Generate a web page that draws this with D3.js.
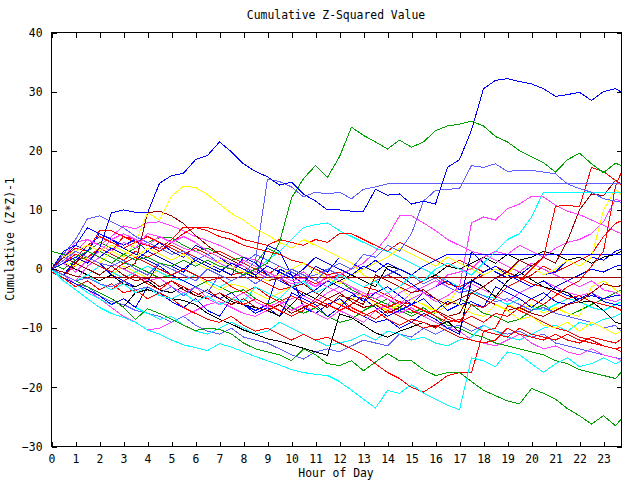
<!DOCTYPE html>
<html><head><meta charset="utf-8">
<script src="https://cdn.jsdelivr.net/npm/d3@7/dist/d3.min.js"></script>
<style>
body{margin:0;background:#fff}
text{font-family:"DejaVu Sans Mono","Liberation Mono",monospace;font-size:11.4px;fill:#000}
</style>
</head><body>
<svg id="chart" width="640" height="480"></svg>
<script>
const titleText = "Cumulative Z-Squared Value";
const xLabel = "Hour of Day";
const yLabel = "Cumulative (Z*Z)-1";
const xTicks = [0,1,2,3,4,5,6,7,8,9,10,11,12,13,14,15,16,17,18,19,20,21,22,23];
const yTicks = [-30,-20,-10,0,10,20,30,40];
const hours = [0,0.5,1,1.5,2,2.5,3,3.5, 4,4.5,5,5.5,6,6.5,7,7.5, 8,8.5,9,9.5,10,10.5,11,11.5,
  12,12.5,13,13.5,14,14.5,15,15.5, 16,16.5,17,17.5,18,18.5,19,19.5, 20,20.5,21,21.5,22,22.5,23,23.5, 23.75];

const s01 = [0,1,2,1,3.5,9.5,10,9.6, 9.5,14.5,15.8,16.2,18.5,19.2,21.5,19.8, 17.8,16.5,15.6,14.2,14.7,12.7,11.5,10, 10,9.8,9.8,13.5,12.5,12.7,11,11.5, 11,17.2,18.5,23.5,30.5,31.9,32.2,31.7, 31.3,30.5,29.2,29.5,29.9,28.5,30,30.5, 29.9];
const s02 = [0,-1,-2,-1.5,-2.5,-3,-2,-3.5, -3,-4,-3,-4.5,-3,-4,-1,-2, -1,1.5,15.2,14.8,13.9,12.2,13,12.7, 13,11.9,13.5,13.9,14.4,14.4,14.4,14.4, 14.4,14.4,14.4,14.4,14.4,14.4,14.4,14.4, 14.4,14.4,14.4,14.4,14.4,14.4,14.4,14.4, 14.4];
const s03 = [0,1.5,3,2,1,0.5,1.5,0, -1,1,0,-1,-2,0,-1,-2, -1,-2.5,-1,-2,0,-1,-2,0, 1,0,2.5,2,4,3,6,11.5, 13.3,13.5,13.6,17.5,17.2,17.8,16.5,16.7, 16.7,16.4,16.1,14.4,13.6,13,11.9,11.5, 11.3];
const s04 = [0,1,2,3,2,1,2.5,1.5, 2,1,0.5,1.5,0.5,1.5,0.5,0, -1,0,1,4.5,12,15.3,17.5,15.5, 19,24,22.6,21.5,20.3,21.8,20.6,21.5, 23.4,24.2,24.5,25,24.2,22.4,21.5,20, 19,18,16.4,18.5,19.6,17.8,16.3,17.9, 17.5];
const s05 = [0,1,0.5,2,1,3,2,4.5, 9.5,8.3,12.3,14,13.8,12.6,11,9.4, 8.3,6.8,5.8,4.5,3.5,5,4,3, 2,1,-1,-2,-4,-3,-5,-6, -7,-5,-6,-7.5,-8,-6,-7,-8.5, -8,-9.5,-10,-9,-10.5,-9,-10,-11, -10.5];
const s06 = [0,-1,1,3,2,1,0,1, 9.5,9.8,9,7.7,5.7,4,2.5,1.5, 0.5,-1,-2,-1.5,-3,-2.5,-4,-5, -4,-5.5,-6.5,-6,-7.5,-6.5,-5,-6, -7,-8,-7.5,-4,-5,-6,-7,-6.5, -7.5,-8,-7,-6,-5.5,-4,-2.5,-3, -2.8];
const s07 = [0,-1,-2,-1,-2.5,-3.5,-2.5,-4, -3,-4.5,-5,-4,-5.5,-4.5,-6,-5, -5.5,-3,-4,-5,-3,-2,-4,-3, -1,-2,-3,-2,-4,-3,-1,-2, 0,1,0,-1,1,3,5,6, 8.8,13,13,13,13,13,12.9,12.9, 12.9];
const s08 = [0,1,2.5,1.5,0.5,-0.5,1,2, 1,0,-1,0,-1,-2,-1.5,-3, -4,-3,-4.5,-5.5,-4.5,-5.5,-6.5,-5, -6,-7,-8,-7,-8.5,-9.5,-8.5,-9, -10,-8,-9,-6,-6.5,-5,-3,-2, 0,2,10.6,10.8,10.5,17.2,16.5,15, 14.2];
const s09 = [0,2,1,0,-1,0.5,-1,-2, -1.5,-3,-2,-3.5,-4.5,-3.5,-5,-6, -5,-6.5,-7,-6,-7.5,-6.5,-5.5,-6.5, -4.5,-5,-6,-1,-2,-3,-4,-3.5, -5,-6,-5,-4,-3,-1.5,-0.5,1.5, 0.5,2,1,4.8,10,12.7,12.4,15, 14.4];
const s10 = [0,-1,-2,0.5,2,1,0,-1, -2,-1.5,-3,-4,-3,-5,-6,-5, -4,-5.5,-6.5,-5.5,-7,-6,-7.5,-8.5, -7,-8,-9,-7,-6,-4,-3,-4, -5.5,-4.5,-3,7.8,8.8,8.3,10.2,11, 12.3,12.2,10.8,9.8,9.2,8.3,7.4,6.4, 6];
const s11 = [0,1,3,5,4,3,4.5,3.5, 6,5.5,4.5,5.5,4.5,3,2,1, 0.5,-0.5,-1.5,-1,-2,-1.5,-3,-2, -1,0,1,3,5.5,9,9,7.8, 6.5,5,4,3,2.5,1.5,0.5,-0.5, 1,0,-1,-2,-3,-2,-3.5,-4, -4.5];
const s12 = [0,2,4.5,5,4,5.5,7.3,6.8, 7.8,8,7.3,6.5,5.5,4.8,4,3, 2,1.5,0.5,-0.5,-1.5,-0.5,-2,-3, -4,-3,-4.5,-5.5,-6.5,-7.5,-6.5,-8, -9,-10,-10.5,-12,-12.5,-13,-12,-11, -12.5,-13.5,-13,-14,-14.5,-13.5,-14.5,-15, -15.5];
const s13 = [0,-1,-2,-3,-4,-5,-6.5,-8.5, -6.7,-7.5,-8.5,-9.5,-10.4,-10,-10.2,-11, -12.5,-13.5,-14,-14.5,-15.5,-13.5,-14.5,-16, -16.3,-15.5,-17.2,-15.7,-14.3,-15.5,-15.5,-17, -18,-17.5,-17.5,-19,-20.5,-21.4,-22.3,-22.8, -20.2,-21,-22,-23.6,-24.8,-26.2,-24.8,-26.5, -25.3];
const s14 = [0,-2,-3.5,-5,-6.5,-7.5,-8.2,-9, -10.3,-11,-12,-12.8,-13.3,-13.8,-12.6,-13.2, -14,-14.8,-15.5,-16.2,-17,-17.5,-17.8,-18, -19,-20.5,-22,-23.5,-20.5,-21,-19.5,-21, -22,-23,-23.8,-15,-15.5,-16.5,-14,-14.5, -16,-17.5,-16,-15,-16.5,-16,-15,-16, -15.5];
const s15 = [0,-1.5,-2.5,-4,-5,-6,-5,-6.5, -7.5,-8.5,-8,-9.5,-10.5,-11,-10,-9, -10,-11,-10.5,-9,-10,-11,-12,-13, -12.5,-12,-11,-12,-10.5,-11,-12,-11.5, -12.5,-13,-12,-11.5,-9.5,-10.5,-11.5,-12, -11,-10,-9.5,-10.5,-9,-9.5,-8.5,-8, -7.5];
const s16 = [0,-1,-2,-3,-4,-5,-6.4,-4, -3.5,-4,-5,-5.3,-6,-7.5,-8.5,-9.3, -10.3,-11,-11.8,-12.2,-12.8,-13.4,-14,-14.6, -7.6,-8.2,-9.5,-10.8,-11.5,-10.5,-9.8,-9, -9.8,-8.8,-10.7,-1.8,-3,-4.7,-2,-0.5, -1.8,-3,-3.5,-4,-5.6,-5.5,-7,-9, -9.3];
const s17 = [0,1,0,-1,-2,-1,-2.5,-3, -2,-3.5,-4,-3,-4.5,-5,-4,-5.5, -6,-6.5,-7,-8,-6,-4,-5,-3, -2,-1,-2,-3,0.5,0,-1,-2, -1,0.5,0,1,2,1,2.5,1.5, 2,3,2.5,1.5,2,1,2,2.5, 3];
const s18 = [0,-1,1.5,3,2,3.5,2.5,1.5, 3,2,1,0,1.5,0.5,-0.5,1, 0,-1,0.5,-0.5,-1.5,0,2,1, 0,-1,0.5,-0.5,1,0,-1,0.5, 1.5,2.5,2.5,2.5,2.5,2.5,2.5,2.5, 2.5,2.5,2.5,2.5,2.5,2.5,2.5,2.5, 2.5];
const s19 = [0,-0.5,-1.2,-1.5,-1.5,-1.5,-1.5,-1.5, -1.5,-1.5,-1.5,-1.5,-1.5,-1.5,-1.5,-1.5, -1.5,-1.5,-1.5,-1.5,-1.5,-1.5,-1.5,-1.5, -1.5,-1.5,-1.5,-1.5,-1.5,-1.5,-1.5,-1.5, -1.5,-1.5,-1.5,-1.5,-1.5,-1.5,-1.5,-1.5, -1.5,-1.5,-1.5,-1.5,-1.5,-1.5,-1.5,-1.5, -1.5];
const s20 = [0,2,3.5,3,6.5,6.5,5.5,5, 4,3.5,5,7.1,7,6.5,5.5,5, 4,3.5,3,2.5,1.5,1,0,-1, -0.5,-2,-3,-3.5,-4.5,-5.5,-6,-7, -8,-9,-8.5,-9.5,-10.5,-11,-11.5,-10, -11,-11.5,-12,-11,-12,-12.5,-13,-13.5, -14];
const s21 = [3,2.5,1.5,2,3,2,1,0.5, -0.5,-1.5,-1,-2,-3,-2,-3,-4, -3.5,-5,-6,-5,-6.5,-7.5,-6.5,-8, -9,-8.5,-7,-6,-5,-6.5,-7.5,-6.5, -8,-9.5,-10,-11,-11.5,-12.5,-13,-13.5, -14,-14.5,-15.5,-16,-17,-17.5,-18,-18.5, -17.4];
const s22 = [1,0,1.5,3,4.5,3.5,2.5,3.5, 4.5,5.3,5.3,4,3,3.5,2.5,1.5, 2,1,3.5,2.5,1.5,1,0,-1, -2,-3.5,-4.5,-5,-6,-7,-8,-7, -7.5,-6,-5,-6,-7.5,-8,-9,-8.5, -7,-6,-7.5,-8,-7,-6,-5,-4, -3.5];
const s23 = [0,2,4,3,6,5,4,5, 3,4.5,3,2,4,3,2,0.5, -0.5,-1.5,4,3,-1,-2.5,0.5,-0.5, 2,1,0,1.5,0,-1,-2.5,-4, -3,-2,-3.5,-2,-0.5,0.5,-1,-2, -3,-2,-3.5,-4.5,-5,-4,-5.5,-6, -6.2];
const s24 = [0,1.5,3,2,1,-1,-2,-3, -2,1,0.5,-0.5,2,1,0,-1, 2,1,-1,-2,-3,-4.5,-3.5,-2, -3,-4,-5.5,-4,-3,-4.5,-6,-5, -7,-5.5,-6,3,1,-0.5,-1.5,-1, 0.5,-1,-0.5,1.5,0.5,2,1.5,3, 3.4];
const s25 = [-0.5,-1.5,-2.5,-3.5,-4.5,-6,-5,-6.5, -3,-4,-5.5,-6.5,-5,-7,-8,-5, -6,-7.5,-6.5,-8,-4,-5,-6,-8, -6.5,-4.5,-5,-6.5,-8,-7,-6,-4, -5,-7,-6,-5.5,-6.5,-3,-4,-5, -6.5,-5,-3,-2,-1,0,-0.5,0.5, 0.6];
const s26 = [0,-1.5,-2.5,-3,-4.5,-5.5,-6,-7, -7.5,-8,-9,-8,-9.5,-10.5,-11,-10, -11.5,-12,-12.5,-13.5,-14.5,-15.2,-14,-13.5, -14,-13,-12,-12.5,-13,-11,-11.5,-10, -11,-10,-9.5,-10.5,-9.5,-10.5,-11,-10.5, -11.5,-11,-12.5,-13,-13.5,-14,-14.5,-15, -15.2];
const s27 = [0,-1,-2.5,-3.5,-5,-6.5,-8,-9, -10.3,-10,-9,-8,-7,-6,-5.5,-6.5, -7.5,-8,-7,-6,-5,-4.5,-5.5,-4, -3,-4,-4.5,-4,-5,-6,-4,-3, -2,-3,-4,-2.5,-3.5,-4.5,-5.5,-4, -3,-2,-3,-4,-4.5,-4,-5,-5.5, -5];
const s28 = [0,1,0,-1,-2,-1,0.5,-0.5, -1.5,0,-1,-2,-1,-2.5,-3.5,-2.5, -3,-4,-5,-4,-3,-2,-4,-5, -6,-5,-4,-6,-7,-6,-5,-6, -7.5,-6,-3,-4,-3,-5,-6,-7, -6,-7.5,-6.5,-7.5,-8,-3,-2,-3.5, -4];
const s29 = [0,2,3,4,3,4,3,2, 3.5,2.5,1.5,2.5,1,0,1.5,0.5, -0.5,-1,-2,-1,0,1,-0.5,-1.5, -2.5,-1,0,1,2,3.5,2.5,1.5, 0.5,2,1,0,-1,0,-1,1.5, 0.5,-1,0,1.5,0.5,2,10,13.5, 12.5];
const s30 = [0,1,-0.5,1.5,3,5,6,5, 4,5.5,4.5,3.5,3,2,1,0, 1.5,0.5,-0.5,-1.5,-2.5,-2,-3,-1, -2,-3,-4,-5,-4,-6,-5,-4, -3,-1,-0.5,0,2,3,2.5,4, 3,2,3.5,4.5,5,6,8,11.8, 11.5];
const s31 = [0,-1,0.5,2,1,3,5.5,4.5, 4,3,4,3,2,1,0,-1, -0.5,-1.5,-2.5,-3.5,-3,-4,-5,-6, -5,-6.5,-7.5,-8.5,-7,-8,-9,-10, -9.5,-10.5,-11.5,-12,-12.5,-12,-10,-11, -11.5,-12,-11,-12,-12.5,-11.5,-12,-12.5, -11.8];
const s32 = [0,1.5,3,2,3.5,2.5,1.5,3, 2,3,4.5,6,7.1,7,6.5,6, 5,4.5,4,5,4.5,4,5,4.5, 6,6,5,4,3,4.5,3.5,2.5, 1.5,0.5,1.5,0.5,-0.5,0.5,-0.5,-1.5, -2.5,-3,-4,-5,-4.5,-5.5,-6,-6.5, -7];
const s33 = [-0.5,-1.5,-3,-2,-3.5,-2.5,-4,-3.5, -5,-4,-5,-6.5,-7.5,-8.5,-9,-8, -9.5,-10.5,-10,-11,-12,-11,-12,-11.5, -12.5,-13.5,-14.5,-16,-17.5,-18.5,-20,-20.8, -19.5,-18,-17.5,-17.5,-10.5,-10,-6.2,-7, -8,-9,-10,-10.5,-11.5,-12,-13,-13.5, -13.2];
const s34 = [0,-1,-2,-1,-2.5,-3.5,-2,-1, -2.5,-3.5,-2,-3,-4,-5,-4,-5, -6,-5,-6,-7,-8,-7,-5,-6, -7,-6,-4.5,-5.5,-6.5,-5.5,-7,-8, -7,-8.5,-9,-8,-9,-7.5,-8,-6.5, -5,-6,-4.5,-3,-2,0.5,3,14, 16.4];
const s35 = [0,1,2,4,5.5,4.5,3.5,4.5, 5.5,4.5,3.5,2.5,3.5,2.5,3,2, 1,0,-1,0.5,-0.5,-1.5,-2.5,-1.5, -1,-2,-3,-2,-1,-2,-3,-2, -1,-2.5,-3,-2,-1,0,-1,-2, -1,0.5,-0.5,0.5,1.5,2.5,5.5,7.7, 8.2];
const s36 = [0,1,0,-1,0.5,-0.5,-1.5,-0.5, 0.5,-0.5,-1.5,-2,-1,-2,-3,-2, -1,0,1.5,3,5,7,7.5,7.8, 6.5,5.5,4.5,3.5,3,2,1,0, -1,-2,-3,-4,-4.5,-5,-6,-5, -6.5,-7,-6,-5,-5.5,-6.5,-7,-6, -5.5];
const s37 = [0,2.5,5,8.5,9,8,7,5.5, 4.5,3.5,2.5,3,1.5,2.5,1,0, 1,2.5,1.5,0.5,-0.5,-1.5,-1,0, -1,-2,-3,-2,-1,0,-1,-2.5, -1.5,-3,-4,-3.5,-4.5,-5.5,-5,-6, -7,-6.5,-7.5,-8,-8.5,-9,-10,-9.5, -10.5];
const s38 = [0,3,4,7,6,5,3.5,2.5, 1.5,0.5,-1,-2,-3,-4,-5,-4, -6,-7,-6,0,-1,-6.5,-7.5,-6, -5,-7,-8,-9,-8.5,-10,-9,-7.5, -8.5,-10,-11,-2,-3,-1.5,-3,-4, -5,-4,-5.5,-6,-5,-4.5,-5,-4.5, -4.5];

const seriesValues = [s21,s22,s27,s28,s26,s36,s15,s12,s20,s31,s32,s35,s37,s38,s23,s24,s25,s17,s16,s33,s14,s13,
  s06,s11,s05,s10,s30,s29,s19,s18,s09,s34,s08,s07,s03,s02,s04,s01];
const seriesColors = ["#00a000","#00a000","#ff40ff","#ffff00","#6060ff","#00ffff","#00ffff","#ff40ff","#ff0000","#ff0000","#ff0000","#ff0000","#6060ff","#0000ff","#0000ff","#0000ff","#0000ff","#000000","#000000","#ff0000","#00ffff","#00a000",
  "#a00000","#ff40ff","#ffff00","#ff40ff","#ff40ff","#ffff00","#a00000","#0000ff","#a00000","#ff0000","#ff0000","#00ffff","#6060ff","#6060ff","#00a000","#0000ff"];

const svg = d3.select("#chart");
const L = 51.5, R = 621.5, T = 32.5, B = 446.5;
const x = d3.scaleLinear().domain([0, 23.75]).range([L, R]);
const y = d3.scaleLinear().domain([-30, 40]).range([B, T]);

const line = d3.line().x((d,i)=>x(hours[i])).y(d=>y(d));
const plot = svg.append("g");
seriesValues.forEach((vals,k)=>{
  plot.append("path").datum(vals).attr("d", line)
    .attr("fill","none").attr("stroke", seriesColors[k]).attr("stroke-width",1)
    .attr("shape-rendering","crispEdges");
});

svg.append("rect").attr("x",L).attr("y",T).attr("width",R-L).attr("height",B-T)
  .attr("fill","none").attr("stroke","#000").attr("stroke-width",1);

const tk = 5;
const gx = svg.append("g").attr("transform",`translate(0,${B})`)
  .call(d3.axisBottom(x).tickValues(xTicks).tickSizeInner(-tk).tickSizeOuter(0).tickPadding(8).tickFormat(d3.format("d")));
const gxt = svg.append("g").attr("transform",`translate(0,${T})`)
  .call(d3.axisTop(x).tickValues(xTicks).tickSizeInner(-tk).tickSizeOuter(0).tickFormat(""));
const gy = svg.append("g").attr("transform",`translate(${L},0)`)
  .call(d3.axisLeft(y).tickValues(yTicks).tickSizeInner(-tk).tickSizeOuter(0).tickPadding(9).tickFormat(d3.format("d")));
const gyr = svg.append("g").attr("transform",`translate(${R},0)`)
  .call(d3.axisRight(y).tickValues(yTicks).tickSizeInner(-tk).tickSizeOuter(0).tickFormat(""));
[gx,gxt,gy,gyr].forEach(g=>{
  g.select(".domain").remove();
  g.selectAll("line").attr("stroke","#000").attr("shape-rendering","crispEdges");
  g.selectAll("text").style("fill","#000");
  g.attr("font-family",null).attr("font-size",null);
});

svg.append("text").attr("x",336).attr("y",19).attr("text-anchor","middle").text(titleText);
svg.append("text").attr("x",336).attr("y",477).attr("text-anchor","middle").text(xLabel);
svg.append("text").attr("transform","translate(14,239) rotate(-90)").attr("text-anchor","middle").text(yLabel);
</script>
</body></html>
